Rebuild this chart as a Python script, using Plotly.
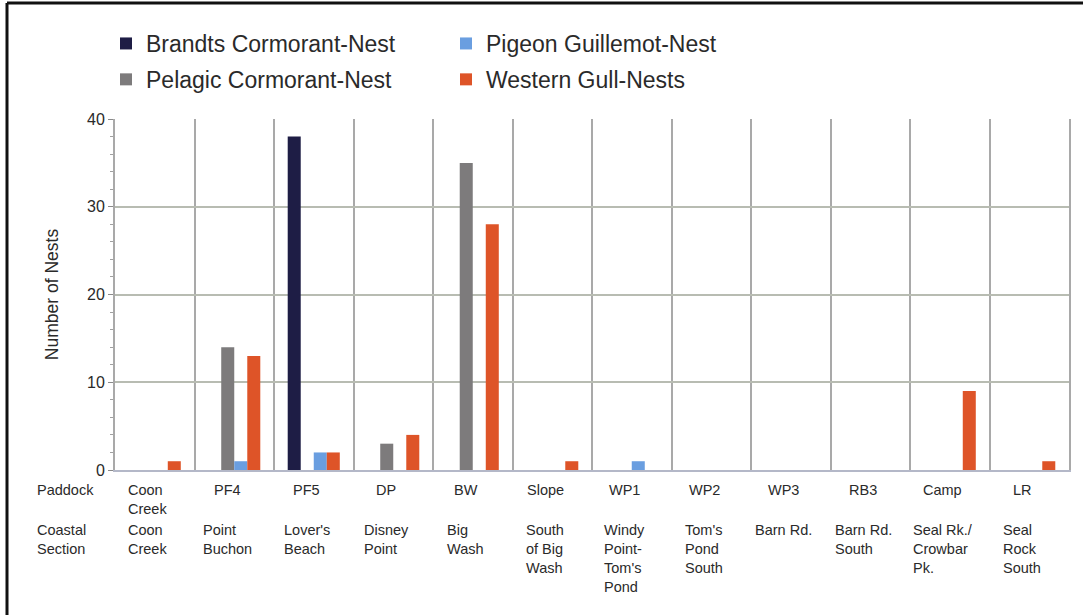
import plotly.graph_objects as go

# Paddock codes (x categories) and the coastal section under each
paddocks = ["Coon<br>Creek", "PF4", "PF5", "DP", "BW", "Slope",
            "WP1", "WP2", "WP3", "RB3", "Camp", "LR"]
sections = ["Coon<br>Creek", "Point<br>Buchon", "Lover's<br>Beach", "Disney<br>Point",
            "Big<br>Wash", "South<br>of Big<br>Wash", "Windy<br>Point-<br>Tom's<br>Pond",
            "Tom's<br>Pond<br>South", "Barn Rd.", "Barn Rd.<br>South",
            "Seal Rk./<br>Crowbar<br>Pk.", "Seal<br>Rock<br>South"]

brandts = [0, 0, 38, 0, 0, 0, 0, 0, 0, 0, 0, 0]
pelagic = [0, 14, 0, 3, 35, 0, 0, 0, 0, 0, 0, 0]
pigeon = [0, 1, 2, 0, 0, 0, 1, 0, 0, 0, 0, 0]
western = [1, 13, 2, 4, 28, 1, 0, 0, 0, 0, 9, 1]

y_ticks = [0, 10, 20, 30, 40]

FONT = "Liberation Sans, Arial, sans-serif"
TXT = "#2a2a2a"

fig = go.Figure()
series = [
    ("Brandts Cormorant-Nest", brandts, "#1e1d45", "legend"),
    ("Pelagic Cormorant-Nest", pelagic, "#7d7b7c", "legend"),
    ("Pigeon Guillemot-Nest", pigeon, "#6a9ee0", "legend2"),
    ("Western Gull-Nests", western, "#de5428", "legend2"),
]
for name, vals, color, leg in series:
    fig.add_trace(go.Bar(
        x=paddocks, y=vals, name=name, marker_color=color,
        marker_line_width=0, legend=leg, legendgroup=name,
    ))

W, H = 1083, 615
L, R, T, B = 115, W - 1069, 119, H - 470
ph = H - T - B
pw = W - L - R


def py(px):
    return (H - B - px) / ph


def px_(x):
    return (x - L) / pw


# row labels beneath the axis
annotations = [
    dict(text="Paddock", xref="paper", yref="paper", x=px_(35), y=py(480),
         xanchor="left", yanchor="top", showarrow=False, align="left"),
    dict(text="Coastal<br>Section", xref="paper", yref="paper", x=px_(35), y=py(520),
         xanchor="left", yanchor="top", showarrow=False, align="left"),
]
for p, s in zip(paddocks, sections):
    annotations.append(dict(text=p, x=p, xref="x", yref="paper", y=py(480),
                            xanchor="center", yanchor="top", align="left",
                            showarrow=False, xshift=-7))
    annotations.append(dict(text=s, x=p, xref="x", yref="paper", y=py(520),
                            xanchor="center", yanchor="top", align="left",
                            showarrow=False, xshift=-7))

# outer frame (left and top edges)
shapes = [
    dict(type="line", xref="paper", yref="paper", x0=px_(7), x1=px_(1090),
         y0=py(3), y1=py(3), line=dict(color="#111111", width=3)),
    dict(type="line", xref="paper", yref="paper", x0=px_(7), x1=px_(7),
         y0=py(3), y1=py(640), line=dict(color="#111111", width=3)),
]

legend_common = dict(
    orientation="v", yanchor="top", xanchor="left",
    font=dict(size=23, family=FONT, color=TXT),
    bgcolor="rgba(0,0,0,0)", tracegroupgap=3, itemclick=False,
)

fig.update_layout(
    width=W, height=H,
    margin=dict(l=L, r=R, t=T, b=B, pad=0),
    paper_bgcolor="white", plot_bgcolor="white",
    barmode="group", bargap=0.345, bargroupgap=0,
    font=dict(family=FONT, size=14.5, color=TXT),
    legend=dict(x=px_(106), y=py(22), **legend_common),
    legend2=dict(x=px_(446), y=py(22), **legend_common),
    annotations=annotations,
    shapes=shapes,
    xaxis=dict(
        showticklabels=False, ticks="", tickson="boundaries",
        showgrid=True, gridcolor="#a9a9a9", gridwidth=2,
        showline=True, linecolor="#b4b8c8", linewidth=1.5,
        zeroline=False,
    ),
    yaxis=dict(
        range=[0, 40], tickvals=y_ticks, ticks="outside", ticklen=5,
        tickcolor="#8a8a8a", tickfont=dict(size=16, color=TXT),
        minor=dict(dtick=2, ticks="outside", ticklen=3, tickcolor="#a0a0a0", showgrid=False),
        showgrid=True, gridcolor="#b8bcb2", gridwidth=1.5,
        showline=True, linecolor="#a9a9a9", linewidth=2, mirror=True,
        zeroline=False,
        title=dict(text="Number of Nests", font=dict(size=17.5, color=TXT), standoff=24),
    ),
)

fig.write_html("out.html")
